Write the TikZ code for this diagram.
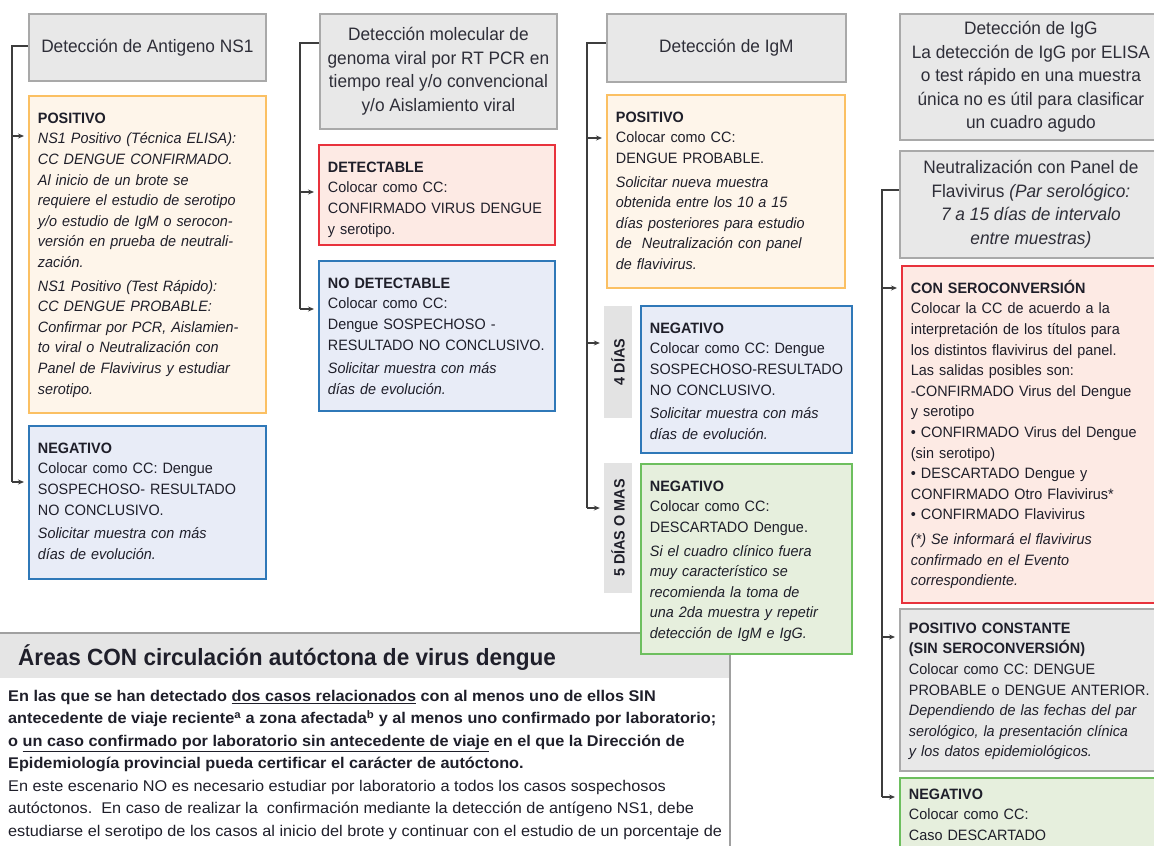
\documentclass[tikz,border=0pt]{standalone}
\usepackage{fontspec}
\setmainfont{Liberation Sans}[FakeStretch=0.96]
\newfontfamily\areafamily{Liberation Sans}[FakeStretch=1.05]
\usetikzlibrary{arrows.meta,calc}

\definecolor{ink}{HTML}{1F1F2A}
\definecolor{headink}{HTML}{2E2E38}
\definecolor{headfill}{HTML}{E8E8E8}
\definecolor{headline}{HTML}{A9A9A9}
\definecolor{posline}{HTML}{FBC063}
\definecolor{posfill}{HTML}{FEF5EA}
\definecolor{detline}{HTML}{E8323C}
\definecolor{detfill}{HTML}{FDEAE4}
\definecolor{negline}{HTML}{2F78B8}
\definecolor{negfill}{HTML}{E8ECF7}
\definecolor{descline}{HTML}{6DBF5E}
\definecolor{descfill}{HTML}{E6EFDD}
\definecolor{tagfill}{HTML}{E3E3E3}
\definecolor{linkgray}{HTML}{3D3D3D}
\definecolor{bandfill}{HTML}{E5E5E5}
\definecolor{bandline}{HTML}{A0A0A0}

\newcommand{\cardfont}{\fontsize{15}{20.6}\selectfont}
\newcommand{\headerfont}{\fontsize{18}{23.5}\selectfont}
\newcommand{\daysfont}{\fontsize{15}{18}\selectfont\bfseries}
\newcommand{\bandfont}{\fontsize{23.5}{28}\selectfont\bfseries}
\newcommand{\areafont}{\areafamily\fontsize{15.5}{22.5}\selectfont}
\newcommand{\cardbody}[2]{\parbox[t][#1][t]{\dimexpr\linewidth+40pt\relax}{\raggedright\strut#2}}

\tikzset{
  head/.style={draw=headline, fill=headfill, line width=1.8pt, anchor=north west,
    align=center, font=\headerfont, text=headink, inner sep=0pt},
  card/.style={line width=1.8pt, anchor=north west, inner xsep=9pt, inner ysep=13pt,
    font=\cardfont, text=ink},
  card-pos/.style={card, draw=posline, fill=posfill},
  card-det/.style={card, draw=detline, fill=detfill},
  card-neg/.style={card, draw=negline, fill=negfill},
  card-desc/.style={card, draw=descline, fill=descfill},
  card-gray/.style={card, draw=headline, fill=headfill},
  daytag/.style={fill=tagfill, rotate=90, inner sep=0pt, font=\daysfont, text=ink},
  link/.style={line width=1.6pt, draw=linkgray},
  arr/.style={link, -{Stealth[length=6pt,width=5pt]}, shorten >=4pt}
}

\begin{document}
\begin{tikzpicture}[x=1pt, y=-1pt]
  \useasboundingbox (0,0) rectangle (1154,846);

  % areas con circulacion (behind the boxes)
  \fill[bandfill] (0,633) rectangle (730,678);
  \draw[bandline, line width=1.6pt] (0,633) -- (730,633) -- (730,850);
  \node[anchor=base west, font=\bandfont, text=ink, inner sep=0pt] (band-title) at (18,665)
    {Áreas CON circulación autóctona de virus dengue};
  \node[anchor=north west, align=left, font=\areafont, text=ink, inner sep=0pt] (band-text) at (8,690)
    {\textbf{En las que se han detectado \underline{dos casos relacionados} con al menos uno de ellos SIN}\\
     \textbf{antecedente de viaje reciente\textsuperscript{a} a zona afectada\textsuperscript{b} y al menos uno confirmado por laboratorio;}\\
     \textbf{o \underline{un caso confirmado por laboratorio sin antecedente de viaje} en el que la Dirección de}\\
     \textbf{Epidemiología provincial pueda certificar el carácter de autóctono.}\\
     En este escenario NO es necesario estudiar por laboratorio a todos los casos sospechosos\\
     autóctonos.\ \ En caso de realizar la\ \ confirmación mediante la detección de antígeno NS1, debe\\
     estudiarse el serotipo de los casos al inicio del brote y continuar con el estudio de un porcentaje de};

  % Antigeno NS1
  \node[head, minimum width=237pt, minimum height=67pt] (ns1-head) at (28,13) {Detección de Antigeno NS1};
  \node[card-pos, text width=219pt] (ns1-pos) at (28,95) {\cardbody{291pt}{%
    \textbf{POSITIVO}\\
    {\itshape NS1 Positivo (Técnica ELISA):\\
    CC DENGUE CONFIRMADO.\\
    Al inicio de un brote se\\
    requiere el estudio de serotipo\\
    y/o estudio de IgM o serocon-\\
    versión en prueba de neutrali-\\
    zación.\\[3pt]
    NS1 Positivo (Test Rápido):\\
    CC DENGUE PROBABLE:\\
    Confirmar por PCR, Aislamien-\\
    to viral o Neutralización con\\
    Panel de Flavivirus y estudiar\\
    serotipo.}}};
  \node[card-neg, text width=219pt] (ns1-neg) at (28,425) {\cardbody{127pt}{%
    \textbf{NEGATIVO}\\
    Colocar como CC: Dengue\\
    SOSPECHOSO- RESULTADO\\
    NO CONCLUSIVO.\\[3pt]
    {\itshape Solicitar muestra con más\\
    días de evolución.}}};

  % RT PCR
  \node[head, minimum width=237pt, minimum height=115pt] (rt-head) at (319,13)
    {Detección molecular de\\genoma viral por RT PCR en\\tiempo real y/o convencional\\y/o Aislamiento viral};
  \node[card-det, text width=218pt] (rt-det) at (318,144) {\cardbody{74pt}{%
    \textbf{DETECTABLE}\\
    Colocar como CC:\\
    CONFIRMADO VIRUS DENGUE\\
    y serotipo.}};
  \node[card-neg, text width=218pt] (rt-nodet) at (318,260) {\cardbody{124pt}{%
    \textbf{NO DETECTABLE}\\
    Colocar como CC:\\
    Dengue SOSPECHOSO -\\
    RESULTADO NO CONCLUSIVO.\\[3pt]
    {\itshape Solicitar muestra con más\\
    días de evolución.}}};

  % IgM
  \node[head, minimum width=239pt, minimum height=68pt] (igm-head) at (606,13) {Detección de IgM};
  \node[card-pos, text width=220pt] (igm-pos) at (606,94) {\cardbody{167pt}{%
    \textbf{POSITIVO}\\
    Colocar como CC:\\
    DENGUE PROBABLE.\\[3pt]
    {\itshape Solicitar nueva muestra\\
    obtenida entre los 10 a 15\\
    días posteriores para estudio\\
    de\ \ Neutralización con panel\\
    de flavivirus.}}};
  \node[daytag, minimum width=112pt, minimum height=28pt] (tag4) at (618,362) {4 DÍAS};
  \node[card-neg, text width=193pt] (igm-neg4) at (640,305) {\cardbody{121pt}{%
    \textbf{NEGATIVO}\\
    Colocar como CC: Dengue\\
    SOSPECHOSO-RESULTADO\\
    NO CONCLUSIVO.\\[3pt]
    {\itshape Solicitar muestra con más\\
    días de evolución.}}};
  \node[daytag, minimum width=130pt, minimum height=28pt] (tag5) at (618,528) {5 DÍAS O MAS};
  \node[card-desc, text width=193pt] (igm-neg5) at (640,463) {\cardbody{164pt}{%
    \textbf{NEGATIVO}\\
    Colocar como CC:\\
    DESCARTADO Dengue.\\[3pt]
    {\itshape Si el cuadro clínico fuera\\
    muy característico se\\
    recomienda la toma de\\
    una 2da muestra y repetir\\
    detección de IgM e IgG.}}};

  % IgG / neutralizacion
  \node[head, minimum width=262pt, minimum height=126pt] (igg-head) at (899,13)
    {Detección de IgG\\La detección de IgG por ELISA\\o test rápido en una muestra\\única no es útil para clasificar\\un cuadro agudo};
  \node[head, minimum width=262pt, minimum height=107pt] (neu-head) at (899,150)
    {Neutralización con Panel de\\Flavivirus \textit{(Par serológico:}\\\textit{7 a 15 días de intervalo}\\\textit{entre muestras)}};
  \node[card-det, text width=244pt] (neu-con) at (901,265) {\cardbody{311pt}{%
    \textbf{CON SEROCONVERSIÓN}\\
    Colocar la CC de acuerdo a la\\
    interpretación de los títulos para\\
    los distintos flavivirus del panel.\\
    Las salidas posibles son:\\
    -CONFIRMADO Virus del Dengue\\
    y serotipo\\
    • CONFIRMADO Virus del Dengue\\
    (sin serotipo)\\
    • DESCARTADO Dengue y\\
    CONFIRMADO Otro Flavivirus*\\
    • CONFIRMADO Flavivirus\\[4pt]
    {\itshape (*) Se informará el flavivirus\\
    confirmado en el Evento\\
    correspondiente.}}};
  \node[card-gray, text width=244pt, inner ysep=10pt] (neu-const) at (899,608) {\cardbody{142pt}{%
    \textbf{POSITIVO CONSTANTE}\\
    \textbf{(SIN SEROCONVERSIÓN)}\\
    Colocar como CC: DENGUE\\
    PROBABLE o DENGUE ANTERIOR.\\
    {\itshape Dependiendo de las fechas del par\\
    serológico, la presentación clínica\\
    y los datos epidemiológicos.}}};
  \node[card-desc, text width=244pt, inner ysep=7pt] (neu-neg) at (899,777) {\cardbody{86pt}{%
    \textbf{NEGATIVO}\\
    Colocar como CC:\\
    Caso DESCARTADO}};

  % brackets
  \coordinate (ns1-tick) at ($(ns1-head.north west)+(0,33)$);
  \coordinate (ns1-spine) at ($(ns1-tick)+(-16,0)$);
  \coordinate (ns1-pos-in) at ($(ns1-pos.north west)+(0,41)$);
  \coordinate (ns1-neg-in) at ($(ns1-neg.north west)+(0,57)$);
  \draw[link] (ns1-tick) -- (ns1-spine) -- (ns1-spine |- ns1-neg-in);
  \foreach \t in {ns1-pos-in,ns1-neg-in}
    \draw[arr] (ns1-spine |- \t) -- (\t);

  \coordinate (rt-tick) at ($(rt-head.north west)+(0,30)$);
  \coordinate (rt-spine) at ($(rt-tick)+(-19,0)$);
  \coordinate (rt-det-in) at ($(rt-det.north west)+(0,48)$);
  \coordinate (rt-nodet-in) at ($(rt-nodet.north west)+(0,49)$);
  \draw[link] (rt-tick) -- (rt-spine) -- (rt-spine |- rt-nodet-in);
  \foreach \t in {rt-det-in,rt-nodet-in}
    \draw[arr] (rt-spine |- \t) -- (\t);

  \coordinate (igm-tick) at ($(igm-head.north west)+(0,30)$);
  \coordinate (igm-spine) at ($(igm-tick)+(-19,0)$);
  \coordinate (igm-pos-in) at ($(igm-pos.north west)+(0,44)$);
  \coordinate (tag4-in) at ($(tag4.north)+(0,-19)$);
  \coordinate (tag5-in) at ($(tag5.north)+(0,-20)$);
  \draw[link] (igm-tick) -- (igm-spine) -- (igm-spine |- tag5-in);
  \foreach \t in {igm-pos-in,tag4-in,tag5-in}
    \draw[arr] (igm-spine |- \t) -- (\t);

  \coordinate (neu-tick) at ($(neu-head.north west)+(0,40)$);
  \coordinate (neu-spine) at ($(neu-tick)+(-17,0)$);
  \coordinate (neu-con-in) at ($(neu-con.north west)+(0,23)$);
  \coordinate (neu-const-in) at ($(neu-const.north west)+(0,29)$);
  \coordinate (neu-neg-in) at ($(neu-neg.north west)+(0,20)$);
  \draw[link] (neu-tick) -- (neu-spine) -- (neu-spine |- neu-neg-in);
  \foreach \t in {neu-con-in,neu-const-in,neu-neg-in}
    \draw[arr] (neu-spine |- \t) -- (\t);
\end{tikzpicture}
\end{document}
